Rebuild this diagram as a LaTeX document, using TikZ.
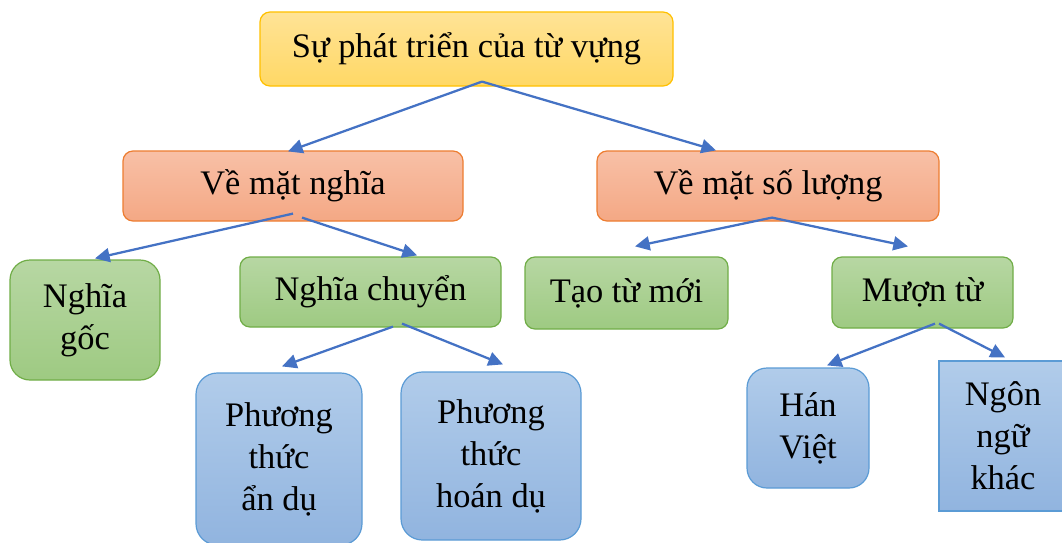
\documentclass[tikz,border=0pt]{standalone}
\usepackage{fontspec}
\setmainfont{Liberation Serif}
\usetikzlibrary{arrows.meta,calc}

\definecolor{yelTop}{HTML}{FFE396}
\definecolor{yelBot}{HTML}{FFD865}
\definecolor{yelLine}{HTML}{FFC000}
\definecolor{orTop}{HTML}{F8C0A7}
\definecolor{orBot}{HTML}{F4A884}
\definecolor{orLine}{HTML}{ED7D31}
\definecolor{grTop}{HTML}{B7D7A3}
\definecolor{grBot}{HTML}{9ECA82}
\definecolor{grLine}{HTML}{70AD47}
\definecolor{blTop}{HTML}{B1CCEA}
\definecolor{blBot}{HTML}{91B4DF}
\definecolor{blLine}{HTML}{5B9BD5}
\definecolor{arrowblue}{HTML}{4472C4}

\tikzset{
  box/.style={rectangle, line width=0.9pt, align=center, inner sep=2pt,
    font=\fontsize{25.8}{31.5}\selectfont},
  rootbox/.style={box, draw=yelLine, top color=yelTop, bottom color=yelBot},
  sidebox/.style={box, draw=orLine, top color=orTop, bottom color=orBot},
  kindbox/.style={box, draw=grLine, top color=grTop, bottom color=grBot},
  waybox/.style={box, draw=blLine, top color=blTop, bottom color=blBot},
  conn/.style={draw=arrowblue, line width=1.7pt, -{Triangle[length=11pt,width=10.5pt]}}
}

\begin{document}
\begin{tikzpicture}[x=0.75pt,y=-0.75pt]
\useasboundingbox (0,0) rectangle (1062,542);

% levels of the tree
\node[rootbox, rounded corners=7.5pt, minimum width=309.75pt, minimum height=55.5pt] (root) at (466.5,49) {Sự phát triển của từ vựng};

\node[sidebox, rounded corners=7.5pt, minimum width=255pt, minimum height=52.5pt] (vmn) at (293,186) {Về mặt nghĩa};
\node[sidebox, rounded corners=7.5pt, minimum width=256.5pt, minimum height=52.5pt] (vsl) at (768,186) {Về mặt số lượng};

\node[kindbox, rounded corners=15pt, minimum width=112.5pt, minimum height=90pt] (goc) at (85,320) {Nghĩa\\gốc};
\node[kindbox, rounded corners=7.5pt, minimum width=195.75pt, minimum height=52.5pt] (chuyen) at (370.5,292) {Nghĩa chuyển};
\node[kindbox, rounded corners=7.5pt, minimum width=152.25pt, minimum height=54pt] (taomoi) at (626.5,293) {Tạo từ mới};
\node[kindbox, rounded corners=7.5pt, minimum width=135.75pt, minimum height=53.25pt] (muon) at (922.5,292.5) {Mượn từ};

\node[waybox, rounded corners=16pt, minimum width=124.5pt, minimum height=129pt] (andu) at (279,459) {Phương\\thức\\ẩn dụ};
\node[waybox, rounded corners=16pt, minimum width=135pt, minimum height=126pt] (hoandu) at (491,456) {Phương\\thức\\hoán dụ};
\node[waybox, rounded corners=15pt, minimum width=91.5pt, minimum height=90pt] (hanviet) at (808,428) {Hán\\Việt};
\node[waybox, minimum width=96pt, minimum height=112.5pt] (khac) at (1003,436) {Ngôn\\ngữ\\khác};

% connectors
\draw[conn] ($(root.south)+(15.5,-5)$) -- ($(vmn.north)+(-5,1)$);
\draw[conn] ($(root.south)+(15.5,-5)$) -- ($(vsl.north)+(-52,0)$);
\draw[conn] ($(vmn.south)+(0,-8)$) -- ($(goc.north)+(10,-1)$);
\draw[conn] ($(vmn.south)+(9,-4)$) -- ($(chuyen.north)+(46.5,-1)$);
\draw[conn] ($(vsl.south)+(4,-4)$) -- ($(taomoi.north)+(8.5,-10)$);
\draw[conn] ($(vsl.south)+(4,-4)$) -- ($(muon.north)+(-14.5,-10)$);
\draw[conn] ($(chuyen.south)+(22.5,-1)$) -- ($(andu.north)+(3,-6)$);
\draw[conn] ($(chuyen.south)+(31.5,-4)$) -- ($(hoandu.north)+(12,-7)$);
\draw[conn] ($(muon.south)+(12.5,-5)$) -- ($(hanviet.north)+(19,-2)$);
\draw[conn] ($(muon.south)+(16.5,-5)$) -- ($(khac.north)+(2,-3)$);
\end{tikzpicture}
\end{document}
